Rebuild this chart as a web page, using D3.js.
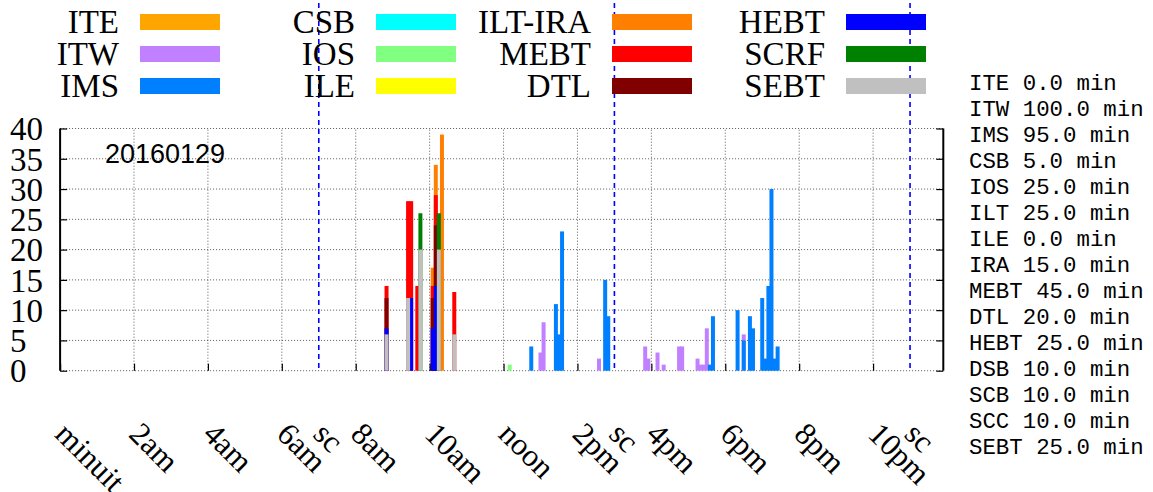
<!DOCTYPE html>
<html>
<head>
<meta charset="utf-8">
<script src="https://cdn.jsdelivr.net/npm/d3@7/dist/d3.min.js"></script>
<style>
	body { margin: 0; background: #fff; }
	svg { display: block; }
	text { font-family: "Liberation Serif", "Times New Roman", serif; }
	.grid line { stroke: #000; stroke-opacity: 0.65; stroke-width: 1; stroke-dasharray: 1,2; }
	.mono { font-family: "Liberation Mono", "Courier New", monospace; }
</style>
</head>
<body>
<svg id="vis" width="1153" height="492"></svg>
<script>
// event times (5 min bins) and counts per system, one column per time
const times = [
	"08:50", "09:25", "09:30", "09:40", "09:45", "10:05", "10:10", "10:15", "10:20", "10:40",
	"12:10", "12:45", "13:00", "13:05", "13:25", "13:30", "13:35", "14:35", "14:45", "14:50",
	"15:50", "15:55", "16:10", "16:20", "16:45", "16:50", "17:15", "17:20", "17:25", "17:30",
	"17:35", "17:40", "18:20", "18:30", "18:40", "18:45", "19:00", "19:05", "19:10", "19:15",
	"19:20", "19:25"
];

const SEBT   = [6,12,0,0,20, 0,0,20,0,6, 0,0,0,0,0, 0,0,0,0,0, 0,0,0,0,0, 0,0,0,0,0, 0,0,0,0,0, 0,0,0,0,0, 0,0];
const SCRF   = [0,0,0,0,6,   0,0,6,0,0,  0,0,0,0,0, 0,0,0,0,0, 0,0,0,0,0, 0,0,0,0,0, 0,0,0,0,0, 0,0,0,0,0, 0,0];
const HEBT   = [1,0,12,0,0,  7,14,0,0,0, 0,0,0,0,0, 0,0,0,0,0, 0,0,0,0,0, 0,0,0,0,0, 0,0,0,0,0, 0,0,0,0,0, 0,0];
const DTL    = [5,0,0,0,0,   5,10,0,0,0, 0,0,0,0,0, 0,0,0,0,0, 0,0,0,0,0, 0,0,0,0,0, 0,0,0,0,0, 0,0,0,0,0, 0,0];
const MEBT   = [2,16,16,14,0, 2,5,0,0,7, 0,0,0,0,0, 0,0,0,0,0, 0,0,0,0,0, 0,0,0,0,0, 0,0,0,0,0, 0,0,0,0,0, 0,0];
const ILTIRA = [0,0,0,0,0,   3,5,0,39,0, 0,0,0,0,0, 0,0,0,0,0, 0,0,0,0,0, 0,0,0,0,0, 0,0,0,0,0, 0,0,0,0,0, 0,0];
const ILE    = [0,0,0,0,0,   0,0,0,0,0,  0,0,0,0,0, 0,0,0,0,0, 0,0,0,0,0, 0,0,0,0,0, 0,0,0,0,0, 0,0,0,0,0, 0,0];
const IOS    = [0,0,0,0,0,   0,0,0,0,0,  1,0,0,0,0, 0,0,0,0,0, 0,0,0,0,0, 0,0,0,0,0, 0,0,0,0,0, 0,0,0,0,0, 0,0];
const CSB    = [0,0,0,0,0,   0,0,0,0,0,  0,0,0,0,0, 0,0,0,0,0, 0,0,0,0,0, 0,0,0,0,0, 0,0,0,0,0, 0,0,0,0,0, 0,0];
const IMS    = [0,0,0,0,0,   0,0,0,0,0,  0,4,0,0,11, 6,23,0,15,9, 0,0,0,0,0, 0,0,0,0,0, 1,9,10,5,9, 7,12,2,14,30, 2,4];
const ITW    = [0,0,0,0,0,   0,0,0,0,0,  0,0,3,8,0, 0,0,2,0,0, 4,2,3,1,4, 4,2,1,1,7, 0,0,0,1,0, 0,0,0,0,0, 0,0];
const ITE    = [0,0,0,0,0,   0,0,0,0,0,  0,0,0,0,0, 0,0,0,0,0, 0,0,0,0,0, 0,0,0,0,0, 0,0,0,0,0, 0,0,0,0,0, 0,0];

// stacking order, bottom first
const stackKeys = ["SEBT", "SCRF", "HEBT", "DTL", "MEBT", "ILT-IRA", "ILE", "IOS", "CSB", "IMS", "ITW", "ITE"];
const seriesByKey = {
	"SEBT": SEBT, "SCRF": SCRF, "HEBT": HEBT, "DTL": DTL, "MEBT": MEBT, "ILT-IRA": ILTIRA,
	"ILE": ILE, "IOS": IOS, "CSB": CSB, "IMS": IMS, "ITW": ITW, "ITE": ITE
};

// legend, column by column
const legendKeys = ["ITE", "ITW", "IMS", "CSB", "IOS", "ILE", "ILT-IRA", "MEBT", "DTL", "HEBT", "SCRF", "SEBT"];
const colors = {
	"ITE": "#ffa500", "ITW": "#c080ff", "IMS": "#0080ff", "CSB": "#00ffff",
	"IOS": "#80ff80", "ILE": "#ffff00", "ILT-IRA": "#ff8000", "MEBT": "#ff0000",
	"DTL": "#800000", "HEBT": "#0000ff", "SCRF": "#008000", "SEBT": "#c0c0c0"
};

const tickHours = [0, 2, 4, 6, 8, 10, 12, 14, 16, 18, 20, 22];
const tickLabels = ["minuit", "2am", "4am", "6am", "8am", "10am", "noon", "2pm", "4pm", "6pm", "8pm", "10pm"];
const shiftHours = [7, 15, 23];
const yTicks = [0, 5, 10, 15, 20, 25, 30, 35, 40];

const downNames = ["ITE", "ITW", "IMS", "CSB", "IOS", "ILT", "ILE", "IRA", "MEBT", "DTL", "HEBT", "DSB", "SCB", "SCC", "SEBT"];
const downMinutes = [0, 100, 95, 5, 25, 25, 0, 15, 45, 20, 25, 10, 10, 10, 25];

const dayLabel = "20160129";

// ------------------------------------------------------------
const svg = d3.select("svg#vis");
svg.append("rect").attr("width", 1153).attr("height", 492).attr("fill", "#fff");

const x = d3.scaleLinear().domain([0, 23.9]).range([60.1, 943.3]);
const y = d3.scaleLinear().domain([0, 40]).range([370.7, 128.5]);
const boxWidth = 0.108; // hours

let hours = function(s) {
	const p = s.split(":");
	return +p[0] + (+p[1]) / 60;
};

// grid
const grid = svg.append("g").attr("class", "grid");
grid.selectAll("line.h")
	.data(yTicks)
	.enter().append("line")
	.attr("x1", x(0)).attr("x2", x.range()[1])
	.attr("y1", d => y(d)).attr("y2", d => y(d));
grid.selectAll("line.v")
	.data(tickHours.filter(d => d > 0))
	.enter().append("line")
	.attr("x1", d => x(d)).attr("x2", d => x(d))
	.attr("y1", y(0)).attr("y2", y(40));

// stacked boxes, drawn gnuplot style: top layer (full height) first, lower layers over it
const rows = times.map(function(t, i) {
	const r = { t: hours(t) };
	stackKeys.forEach(k => r[k] = seriesByKey[k][i]);
	return r;
});
const stacked = d3.stack().keys(stackKeys)(rows);

const bars = svg.append("g").attr("id", "bars");
stacked.slice().reverse().forEach(function(layer) {
	bars.append("g")
		.attr("fill", colors[layer.key])
		.selectAll("rect")
		.data(layer.filter(d => d[1] > d[0]))
		.enter().append("rect")
		.attr("x", d => x(d.data.t - boxWidth / 2))
		.attr("width", d => x(d.data.t + boxWidth / 2) - x(d.data.t - boxWidth / 2))
		.attr("y", d => y(d[1]))
		.attr("height", d => y(0) - y(d[1]));
});

// shift change lines
svg.append("g").selectAll("line")
	.data(shiftHours)
	.enter().append("line")
	.attr("x1", d => x(d)).attr("x2", d => x(d))
	.attr("y1", 3).attr("y2", y(0))
	.attr("stroke", "#0000ff")
	.attr("stroke-width", 1.6)
	.attr("stroke-dasharray", "5,4");

// borders left and right
[x(0), x.range()[1]].forEach(function(bx) {
	svg.append("line")
		.attr("x1", bx).attr("x2", bx)
		.attr("y1", y(40)).attr("y2", y(0))
		.attr("stroke", "#000").attr("stroke-width", 2);
});

// ticks on borders
const xAxis = svg.append("g")
	.attr("transform", translate(0, y(0)))
	.call(d3.axisBottom(x).tickValues(tickHours).tickSize(-7).tickFormat((d, i) => tickLabels[i]));
xAxis.select(".domain").remove();
xAxis.selectAll(".tick line").attr("stroke", "#000").attr("stroke-width", 1.2);
xAxis.selectAll(".tick text")
	.attr("x", 0).attr("y", 0).attr("dy", null)
	.attr("text-anchor", "start")
	.attr("transform", "translate(-7,65) rotate(45)")
	.style("font-family", "Liberation Serif")
	.style("font-size", "31.5px")
	.attr("fill", "#000");

svg.append("g").selectAll("text")
	.data(shiftHours)
	.enter().append("text")
	.attr("transform", d => translate(x(d) - 7, y(0) + 65) + " rotate(45)")
	.style("font-size", "31.5px")
	.text("sc");

const yAxis = svg.append("g")
	.attr("transform", translate(x(0), 0))
	.call(d3.axisLeft(y).tickValues(yTicks).tickSize(-7));
yAxis.select(".domain").remove();
yAxis.selectAll(".tick line").attr("stroke", "#000").attr("stroke-width", 1.2);
yAxis.selectAll(".tick text")
	.attr("x", 10 - x(0)).attr("dy", "0.34em")
	.attr("text-anchor", "start")
	.style("font-family", "Liberation Serif")
	.style("font-size", "33px")
	.attr("fill", "#000");

const yRight = svg.append("g")
	.attr("transform", translate(x.range()[1], 0))
	.call(d3.axisRight(y).tickValues(yTicks).tickSize(-7).tickFormat(""));
yRight.select(".domain").remove();
yRight.selectAll(".tick line").attr("stroke", "#000").attr("stroke-width", 1.2);

// date label
svg.append("text")
	.attr("x", 105).attr("y", 163)
	.style("font-family", "Liberation Sans, Arial, sans-serif")
	.style("font-size", "27px")
	.text(dayLabel);

// legend
const legendCols = [140, 376, 612, 846];
const legend = svg.append("g").attr("id", "legend");
legendKeys.forEach(function(k, i) {
	const col = Math.floor(i / 3), row = i % 3;
	legend.append("text")
		.attr("x", legendCols[col] - 21).attr("y", 33 + 32 * row)
		.attr("text-anchor", "end")
		.style("font-size", "33px")
		.text(k);
	legend.append("rect")
		.attr("x", legendCols[col]).attr("y", 14 + 32 * row)
		.attr("width", 80).attr("height", 16)
		.attr("fill", colors[k]);
});

// downtime list on the right
const fmt = d3.format(".1f");
svg.append("g").selectAll("text")
	.data(downNames)
	.enter().append("text")
	.attr("class", "mono")
	.attr("x", 969)
	.attr("y", (d, i) => 89.5 + i * 26.07)
	.style("font-size", "22.4px")
	.text((d, i) => d + " " + fmt(downMinutes[i]) + " min");

//Helper
function translate(tx, ty) {
	return "translate(" + tx + "," + ty + ")";
}
</script>
</body>
</html>
